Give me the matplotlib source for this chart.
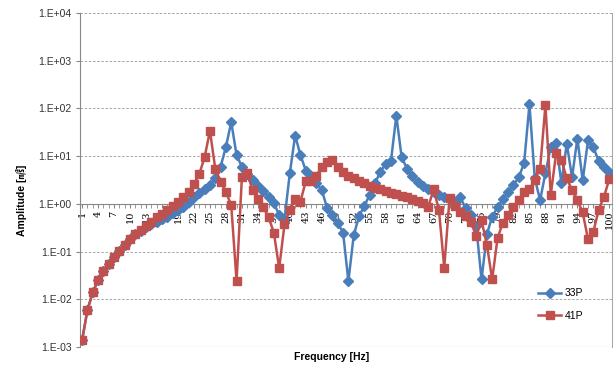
import matplotlib
matplotlib.use("Agg")
import matplotlib.pyplot as plt
import numpy as np

freq = list(range(1, 101))

p33 = [0.0014, 0.006, 0.014, 0.025, 0.04, 0.055, 0.078, 0.105, 0.14, 0.18,
       0.23, 0.27, 0.32, 0.37, 0.42, 0.48, 0.54, 0.64, 0.75, 0.88,
       1.12, 1.38, 1.67, 2.0, 2.5, 3.4, 6.0, 15.6, 52, 10.5,
       6.0, 4.2, 3.2, 2.4, 1.9, 1.4, 1.03, 0.59, 0.48, 4.4,
       27, 10.5, 5.0, 3.8, 2.7, 1.96, 0.82, 0.59, 0.39, 0.25,
       0.024, 0.22, 0.55, 0.91, 1.54, 2.7, 4.7, 6.8, 8.0, 71,
       9.4, 5.5, 3.8, 2.9, 2.4, 2.0, 1.75, 1.55, 1.4, 1.25,
       1.03, 1.38, 0.81, 0.59, 0.34, 0.026, 0.23, 0.54, 0.85, 1.25,
       1.75, 2.5, 3.6, 7.2, 123, 3.4, 1.2, 4.4, 15.6, 19,
       2.7, 18.4, 3.6, 23.4, 3.1, 21.5, 15.2, 8.0, 5.8, 4.6]

p41 = [0.0014, 0.006, 0.014, 0.025, 0.04, 0.055, 0.078, 0.105, 0.14, 0.18,
       0.23, 0.28, 0.34, 0.42, 0.52, 0.62, 0.75, 0.91, 1.12, 1.38,
       1.8, 2.6, 4.2, 9.5, 34, 5.5, 2.9, 1.8, 0.93, 0.024,
       3.6, 4.4, 1.96, 1.27, 0.85, 0.53, 0.25, 0.045, 0.37, 0.75,
       1.26, 1.12, 3.0, 3.0, 3.9, 6.0, 7.4, 8.3, 5.8, 4.6,
       3.9, 3.4, 3.0, 2.7, 2.4, 2.2, 2.0, 1.85, 1.72, 1.6,
       1.48, 1.37, 1.27, 1.15, 1.03, 0.87, 2.0, 0.75, 0.046, 1.35,
       0.9, 0.67, 0.55, 0.42, 0.21, 0.45, 0.14, 0.026, 0.19, 0.40,
       0.59, 0.88, 1.2, 1.8, 2.0, 3.2, 5.5, 116, 1.54, 11.4,
       8.3, 3.4, 1.96, 1.2, 0.66, 0.18, 0.26, 0.75, 1.42, 3.3]

ytick_vals = [1e-3, 1e-2, 1e-1, 1e0, 1e1, 1e2, 1e3, 1e4]
ytick_labels = ["1.E-03", "1.E-02", "1.E-01", "1.E+00", "1.E+01", "1.E+02", "1.E+03", "1.E+04"]
xtick_vals = list(range(1, 101, 3))

blue = "#4A7EBB"
red = "#C0504D"

fig = plt.figure(figsize=(6.15, 3.66), dpi=100)
ax = fig.add_axes([80 / 615, 1 - 347 / 366, 532 / 615, 334 / 366])

ax.set_yscale("log")
ax.set_ylim(1e-3, 1e4)
ax.set_xlim(0.6, 100.5)

for v in ytick_vals[1:]:
    ax.axhline(v, color="#9a9a9a", lw=0.6, ls=(0, (3, 2)), zorder=0)
ax.axhline(1e-3, color="#9a9a9a", lw=0.8, zorder=0)

ax.plot(freq, p33, color=blue, lw=1.8, marker="D", ms=4.6, label="33P", zorder=3)
ax.plot(freq, p41, color=red, lw=1.8, marker="s", ms=5.5, label="41P", zorder=4)

ax.set_yticks(ytick_vals)
ax.set_yticklabels(ytick_labels, family="Liberation Sans", fontsize=7.5, color="#333333")
ax.yaxis.set_minor_locator(matplotlib.ticker.NullLocator())
ax.tick_params(axis="y", length=3, color="#888888", pad=3)

ax.spines["bottom"].set_position(("data", 1))
ax.spines["bottom"].set_color("#888888")
ax.spines["left"].set_color("#888888")
ax.spines["top"].set_visible(False)
ax.spines["right"].set_color("#aaaaaa")
ax.spines["right"].set_linewidth(0.8)

ax.set_xticks(xtick_vals)
ax.set_xticklabels([str(v) for v in xtick_vals], rotation=90, family="DejaVu Serif", fontsize=7)
ax.set_xticks(freq, minor=True)
ax.tick_params(axis="x", which="both", length=3, color="#888888", pad=2)

fig.text(0.54, 1 - 357 / 366, "Frequency [Hz]", ha="center", va="center",
         fontsize=7.5, fontweight="bold", family=["Liberation Sans", "Noto Sans CJK JP"])
fig.text(0.035, 1 - 200 / 366, "Amplitude [㎨]", ha="center", va="center", rotation=90,
         fontsize=7.5, fontweight="bold", family=["Liberation Sans", "Noto Sans CJK JP"])

leg = ax.legend(loc="lower right", bbox_to_anchor=(0.963, 0.05), frameon=False,
                handlelength=2.2, labelspacing=1.2, handletextpad=0.3,
                prop={"family": "Liberation Sans", "size": 7.5})

fig.savefig("out.png", dpi=100)
